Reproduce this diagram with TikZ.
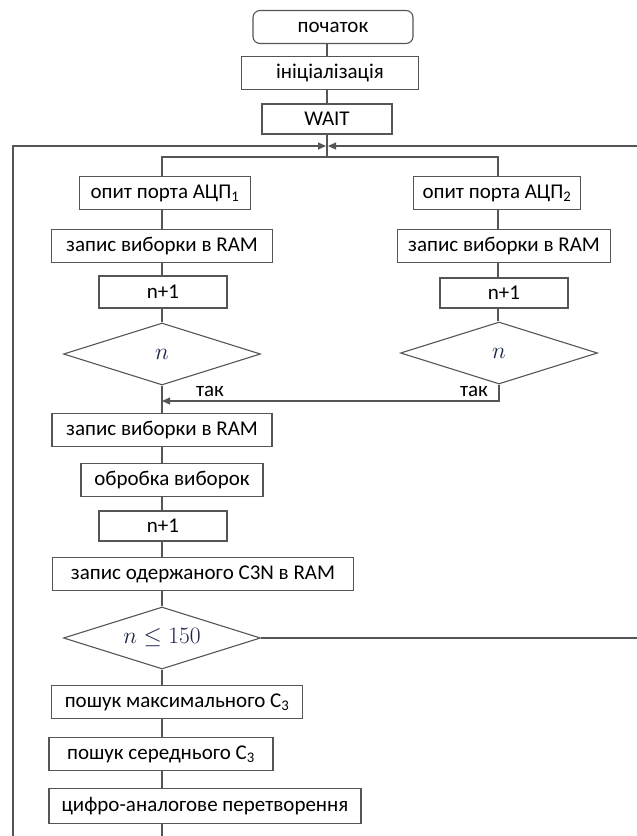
\RequirePackage{fix-cm}
\documentclass[tikz,border=0pt]{standalone}
\usepackage{fontspec}
\setmainfont{Carlito}
\usepackage{tikz}
\usetikzlibrary{shapes.geometric,arrows.meta}

\definecolor{linegray}{RGB}{85,85,85}
\definecolor{mathblue}{RGB}{25,35,70}

\tikzset{
  block/.style={draw=linegray, line width=1.1pt, minimum height=33pt, inner sep=2pt},
  startbox/.style={block, rounded corners=7pt},
  decision/.style={draw=linegray, line width=1.1pt, diamond, aspect=3.2, inner sep=0pt,
    minimum width=197pt, minimum height=62pt, text=mathblue,
    font=\fontsize{23.5}{27}\selectfont},
  flow/.style={draw=linegray, line width=1.1pt},
  flowarrow/.style={flow, -{Triangle[length=8pt,width=7pt]}},
}

\begin{document}
\begin{tikzpicture}[x=1pt, y=-1pt, font=\fontsize{21}{25}\selectfont]
\useasboundingbox (0,0) rectangle (637,836);

% columns and junctions
\coordinate (lcol) at (162,0);
\coordinate (rcol) at (498,0);
\coordinate (redge) at (637,0);
\coordinate (merge) at (327,146);
\coordinate (split) at (327,157);
\coordinate (join) at (162,401);
\coordinate (lbot) at (13,836);

% top
\node[startbox, minimum width=160pt] (start) at (333,27) {початок};
\node[block, minimum width=177pt] (init) at (330,73) {ініціалізація};
\node[block, minimum width=130pt, minimum height=30pt] (wait) at (327,119) {WAIT};

% left branch
\node[block, minimum width=171pt] (adc1) at (165,193) {опит порта АЦП\textsubscript{1}};
\node[block, minimum width=221pt] (lram) at (162,246) {запис виборки в RAM};
\node[block, minimum width=128pt, minimum height=32pt] (linc) at (163,292) {n+1};
\node[decision] (ldec) at (162,354) {$n$};

% right branch
\node[block, minimum width=167pt] (adc2) at (497,193) {опит порта АЦП\textsubscript{2}};
\node[block, minimum width=213pt] (rram) at (504,246) {запис виборки в RAM};
\node[block, minimum width=128pt, minimum height=30pt] (rinc) at (504,293) {n+1};
\node[decision] (rdec) at (499,353) {$n$};

\node (yes1) at (210,391) {так};
\node (yes2) at (474,391) {так};

% main column
\node[block, minimum width=220pt] (ram) at (162,430) {запис виборки в RAM};
\node[block, minimum width=182pt] (proc) at (172,480) {обробка виборок};
\node[block, minimum width=128pt, minimum height=30pt] (inc) at (163,526) {n+1};
\node[block, minimum width=301pt] (save) at (203,574) {запис одержаного С3N в RAM};
\node[decision] (cmp) at (162,638) {$n\leq150$};
\node[block, minimum width=251pt] (maxc) at (177,702) {пошук максимального С\textsubscript{3}};
\node[block, minimum width=224pt] (avgc) at (161,754) {пошук середнього С\textsubscript{3}};
\node[block, minimum width=312pt, minimum height=35pt] (dac) at (205,806) {цифро-аналогове перетворення};

% vertical links
\draw[flow] (start.south -| merge) -- (init.north -| merge);
\draw[flow] (init.south -| merge) -- (wait.north -| merge);
\draw[flow] (wait.south) -- (split);
\draw[flow] (adc1.north -| lcol) |- (split) -| (adc2.north -| rcol);
\foreach \a/\b in {adc1/lram, lram/linc, linc/ldec, ldec/ram, ram/proc, proc/inc,
    inc/save, save/cmp, cmp/maxc, maxc/avgc, avgc/dac}
  \draw[flow] (\a.south -| lcol) -- (\b.north -| lcol);
\foreach \a/\b in {adc2/rram, rram/rinc, rinc/rdec}
  \draw[flow] (\a.south -| rcol) -- (\b.north -| rcol);

% merge of the branches
\draw[flowarrow] (rdec.south) |- (join);

% loops back to WAIT
\draw[flow] (dac.south -| lcol) -- (lcol |- lbot);
\draw[flowarrow] (lbot) |- ([xshift=-1pt]merge);
\draw[flow] (cmp.east) -- (cmp.east -| redge);
\draw[flowarrow] (redge |- merge) -- ([xshift=1pt]merge);
\end{tikzpicture}
\end{document}
